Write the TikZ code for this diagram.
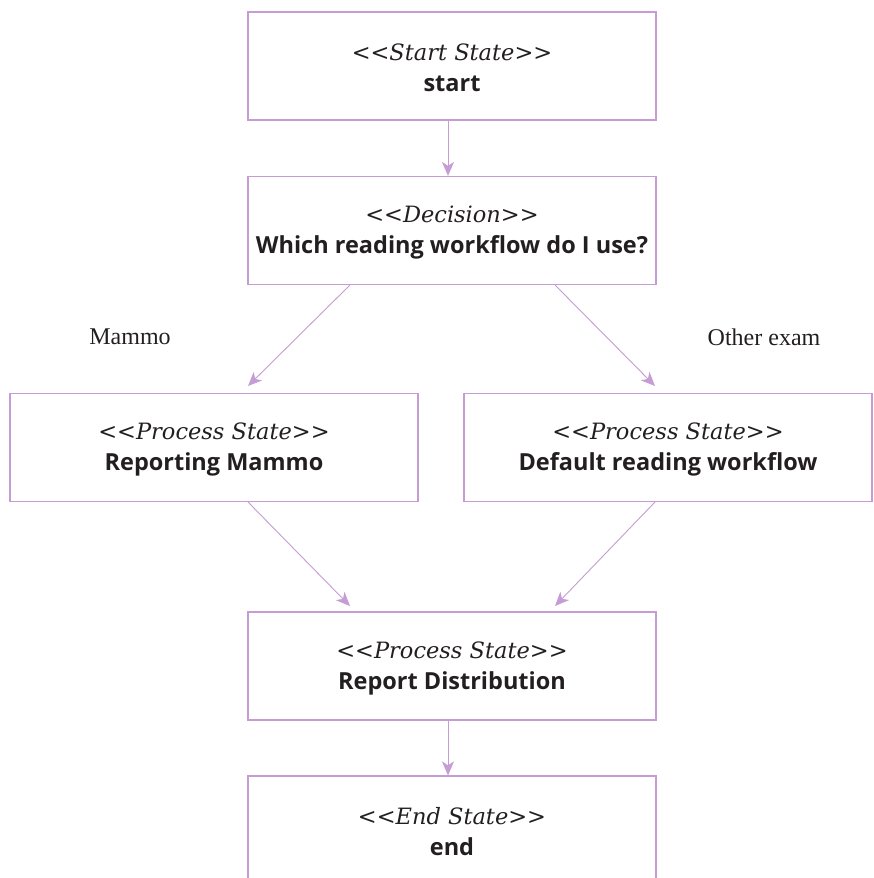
\documentclass[tikz,border=0pt]{standalone}
\usepackage{fontspec}
\setmainfont{Liberation Serif}
\newfontfamily\boldsans{Open Sans}
\newfontfamily\stfont{DejaVu Serif}
\usetikzlibrary{arrows.meta}
\definecolor{lav}{RGB}{198,156,212}
\definecolor{txt}{RGB}{35,31,32}
\tikzset{
  box/.style={draw=lav, line width=1.2pt, minimum width=408pt, minimum height=108pt, inner sep=0pt, align=center, text=txt, font=\fontsize{22.5}{31}\selectfont},
  conn/.style={draw=lav, line width=0.9pt, -{Stealth[length=14pt,width=12pt,inset=4pt]}},
  lbl/.style={text=txt, font=\fontsize{24}{28}\selectfont}
}
\newcommand{\stereo}[1]{{\stfont\itshape <{}<#1>{}>}}
\newcommand{\nm}[1]{{\fontsize{23.5}{31}\selectfont\boldsans\bfseries #1}}
\begin{document}
\begin{tikzpicture}[x=1pt,y=1pt]
\useasboundingbox (0,0) rectangle (874,-878);
\node[box] (start) at (452,-66) {};
\node[box] (dec) at (452,-230.5) {};
\node[box] (rep) at (214,-447.5) {};
\node[box] (def) at (668,-447.5) {};
\node[box] (dist) at (452,-666) {};
\node[box, minimum height=120pt] (end) at (452,-836) {};
\tikzset{tx/.style={align=center, text=txt, font=\fontsize{22.5}{31}\selectfont}}
\node[tx] (startt) at (452,-68) {\stereo{Start State}\\\nm{start}};
\node[tx] (dect) at (452,-232.5) {\stereo{Decision}\\\nm{Which reading workflow do I use?}};
\node[tx] (rept) at (214,-449.5) {\stereo{Process State}\\\nm{Reporting Mammo}};
\node[tx] (deft) at (668,-449.5) {\stereo{Process State}\\\nm{Default reading workflow}};
\node[tx] (distt) at (452,-668) {\stereo{Process State}\\\nm{Report Distribution}};
\node[tx] (endt) at (452,-832) {\stereo{End State}\\\nm{end}};
\coordinate (d1) at (350,-285);
\coordinate (d2) at (555,-285);
\coordinate (r1) at (248,-502);
\coordinate (f1) at (655,-502);
\draw[conn] (start.south -| 448,0) -- (dec.north -| 448,0);
\draw[conn] (d1) -- (248,-386);
\draw[conn] (d2) -- (655,-386);
\draw[conn] (r1) -- (350,-606);
\draw[conn] (f1) -- (555,-606);
\draw[conn] (dist.south -| 448,0) -- (end.north -| 448,0);
\node[lbl] (lm) at (130,-337) {Mammo};
\node[lbl] (lo) at (764,-337) {Other exam};
\end{tikzpicture}
\end{document}
